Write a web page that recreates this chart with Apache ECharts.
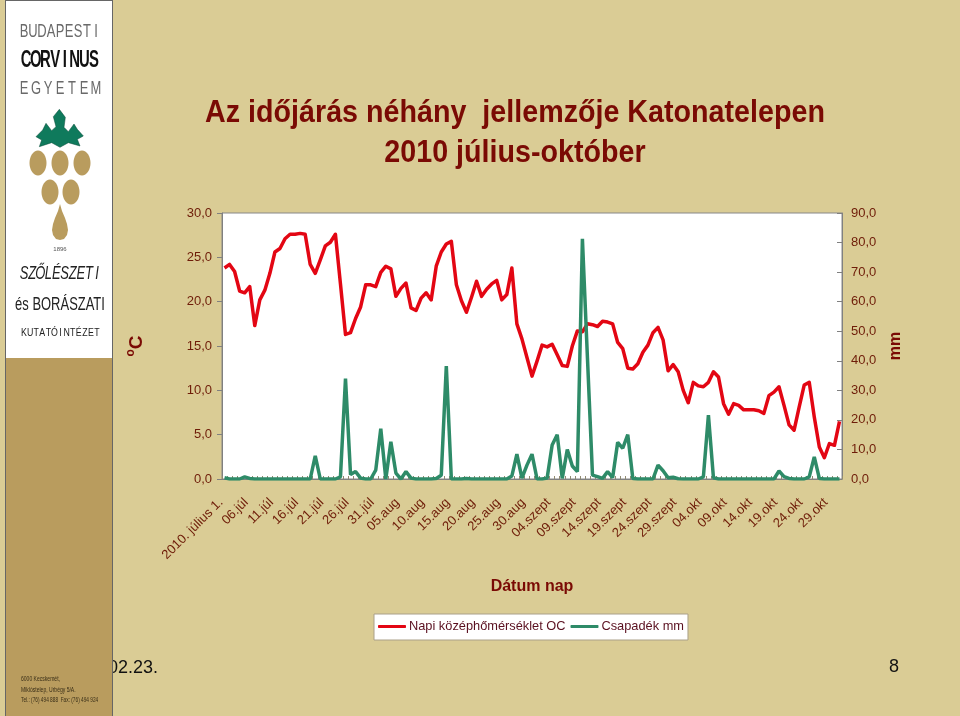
<!DOCTYPE html>
<html><head><meta charset="utf-8">
<style>html,body{margin:0;padding:0;background:#dacc95}#c{width:960px;height:716px}</style>
<script src="https://cdn.jsdelivr.net/npm/echarts@6/dist/echarts.min.js"></script>
</head><body><div id="c"></div>
<script>
const tickLabels = ["2010. július 1.","06.júl","11.júl","16.júl","21.júl","26.júl","31.júl","05.aug","10.aug","15.aug","20.aug","25.aug","30.aug","04.szept","09.szept","14.szept","19.szept","24.szept","29.szept","04.okt","09.okt","14.okt","19.okt","24.okt","29.okt"];
const temperature = [23.8,24.2,23.4,21.2,21.0,21.7,17.3,20.2,21.3,23.2,25.6,26.0,27.1,27.6,27.6,27.7,27.6,24.2,23.2,24.7,26.3,26.7,27.6,22.0,16.3,16.5,18.1,19.4,21.9,21.9,21.7,23.3,24.0,23.7,20.6,21.5,22.1,19.3,19.0,20.4,21.0,20.2,24.0,25.6,26.5,26.8,21.9,20.1,18.8,20.5,22.3,20.6,21.4,22.0,22.4,20.2,20.8,23.8,17.5,15.8,13.7,11.6,13.3,15.1,14.9,15.2,14.0,12.8,12.7,15.0,16.7,16.6,17.5,17.4,17.2,17.8,17.7,17.5,15.4,14.7,12.5,12.4,13.0,14.3,15.1,16.5,17.1,15.7,12.2,12.9,12.1,10.0,8.6,10.9,10.5,10.4,10.9,12.1,11.5,8.5,7.3,8.5,8.3,7.8,7.8,7.8,7.7,7.4,9.4,9.8,10.4,8.3,6.1,5.5,8.1,10.6,10.9,7.0,3.6,2.4,4.0,3.8,6.5];
const rainfall = [0.4,0,0,0,0.7,0.2,0,0,0,0,0,0,0,0,0,0,0,0,7.8,0,0,0,0,0.7,34.0,1.5,2.5,0.3,0,0,3.0,17.0,0,12.6,2.0,0,2.5,0.3,0,0,0,0,0.2,1.3,38.2,0,0,0,0.2,0,0,0,0,0,0,0,0,1.0,8.4,0.3,4.7,8.4,0,0,0.3,11.5,15.0,0.2,10.0,4.4,2.5,81.3,41.0,1.3,0.8,0.2,2.5,0.5,12.4,10.4,15.0,0.2,0,0,0,0,4.7,2.8,0.4,0.6,0.1,0,0,0,0,0.7,21.6,0.4,0,0,0,0,0,0,0,0,0,0,0,0,2.7,0.8,0.2,0,0,0,0.7,7.5,0.2,0,0,0,0];
const categories = temperature.map((_, i) => i % 5 === 0 ? tickLabels[i / 5] : 'd' + i);

const F = '"Liberation Sans", Arial, sans-serif';
const DARK = '#6e1c08', TITLE = '#7a0a04';

function label(x, y, text, font, color, sx, align, z) {
  return {type:'text', x, y, scaleX:sx||1, z:z||20, style:{text, font, fill:color, textAlign:align||'left', textVerticalAlign:'middle'}};
}
function spaced(text, x0, x1, y, font, color, sx) {
  const step = (x1 - x0) / (text.length - 1);
  return [...text].map((ch, i) => label(x0 + i * step, y, ch, font, color, sx, 'center'));
}
const GOLD = '#b99c5e';
const leaf = [[178,328],[196,352],[192,382],[205,395],[222,372],[232,388],[250,408],[232,418],[240,438],[205,428],[180,442],[155,428],[118,440],[125,420],[108,410],[128,390],[138,370],[155,392],[168,380],[160,350]].map(p => [p[0]/3, p[1]/3]);
const drop = [[60,204],[62,211],[65,218],[67,224],[68,230],[67,235],[64,239],[60,240],[56,239],[53,235],[52,230],[53,224],[55,218],[58,211]];

const logo = [
  {type:'rect', z:10, shape:{x:5,y:0,width:108,height:358}, style:{fill:'#fff'}},
  {type:'rect', z:10, shape:{x:5,y:358,width:108,height:358}, style:{fill:GOLD}},
  {type:'line', z:11, shape:{x1:5.5,y1:0,x2:5.5,y2:716}, style:{stroke:'#666',lineWidth:1}},
  {type:'line', z:11, shape:{x1:112.5,y1:0,x2:112.5,y2:716}, style:{stroke:'#666',lineWidth:1}},
  {type:'line', z:11, shape:{x1:5,y1:0.5,x2:113,y2:0.5}, style:{stroke:'#666',lineWidth:1}},
  ...spaced('BUDAPESTI', 24, 96, 32, '18px '+F, '#6a6a6a', 0.72),
  ...spaced('CORVINUS', 26, 94, 60, 'bold 24px '+F, '#111', 0.62),
  ...spaced('EGYETEM', 24, 96, 89, '18px '+F, '#6a6a6a', 0.72),
  {type:'polygon', z:20, shape:{points:leaf}, style:{fill:'#0f7a5c', stroke:'#0b4a38', lineWidth:0.5}},
  ...[[38,163],[60,163],[82,163],[50,192],[71,192]].map(c => ({type:'ellipse', z:20, shape:{cx:c[0],cy:c[1],rx:8.5,ry:12.5}, style:{fill:GOLD}})),
  {type:'polygon', z:20, shape:{points:drop}, style:{fill:GOLD}},
  label(60, 249, '1896', '6px '+F, '#555', 1, 'center'),
  ...spaced('SZŐLÉSZETI', 24, 97, 274, 'italic 18px '+F, '#222', 0.72),
  label(60, 305, 'és BORÁSZATI', '18px '+F, '#222', 0.72, 'center'),
  ...spaced('KUTATÓINTÉZET', 24, 97, 333, '11px '+F, '#222', 0.8),
  label(21, 679, '6000 Kecskemét,', '7px '+F, '#3a2f18', 0.72),
  label(21, 690, 'Miklóstelep, Urbégy 5/A.', '7px '+F, '#3a2f18', 0.72),
  label(21, 700, 'Tel.: (76) 494 888  Fax: (76) 494 924', '7px '+F, '#3a2f18', 0.68),
];

const chart = echarts.init(document.getElementById('c'), null, {renderer:'canvas'});
chart.setOption({
  animation:false,
  backgroundColor:'#dacc95',
  textStyle:{fontFamily:F},
  legend:{
    left:374, top:614, padding:[6,4,7,4], itemGap:5, itemWidth:28, itemHeight:3, icon:'roundRect',
    backgroundColor:'#fff', borderColor:'#aaa089', borderWidth:1, borderRadius:0,
    textStyle:{fontFamily:F, fontSize:12.8, color:'#5a1020', padding:[0,0,0,-2]},
    data:['Napi középhőmérséklet OC','Csapadék mm']
  },
  grid:{left:222, right:118, top:213, bottom:237, show:true, backgroundColor:'#fff', borderColor:'#888', borderWidth:1},
  xAxis:{
    type:'category', data:categories, boundaryGap:true,
    name:'Dátum nap', nameLocation:'middle', nameGap:100,
    nameTextStyle:{fontFamily:F, fontWeight:'bold', fontSize:16, color:TITLE},
    axisLine:{lineStyle:{color:'#808080'}},
    axisTick:{show:true, alignWithLabel:false, interval:0, inside:true, length:3, lineStyle:{color:'#908a70'}},
    axisLabel:{interval:4, rotate:45, margin:18, padding:[0,5,0,0], fontFamily:F, fontSize:13, color:DARK, hideOverlap:false},
    splitLine:{show:false}
  },
  yAxis:[{
    type:'value', min:0, max:30, interval:5, position:'left',
    name:'{o|o}{c|C}', nameLocation:'middle', nameGap:73, nameRotate:90,
    nameTextStyle:{rich:{o:{fontFamily:F,fontWeight:'bold',fontSize:12,color:TITLE,verticalAlign:'top',lineHeight:24},c:{fontFamily:F,fontWeight:'bold',fontSize:19,color:TITLE,lineHeight:24}}},
    axisLine:{show:true, lineStyle:{color:'#808080'}},
    axisTick:{show:true, length:5, lineStyle:{color:'#808080'}},
    axisLabel:{margin:10, fontFamily:F, fontSize:13, color:DARK, formatter:v => v.toFixed(1).replace('.',',')},
    splitLine:{show:false}
  },{
    type:'value', min:0, max:90, interval:10, position:'right',
    name:'mm', nameLocation:'middle', nameGap:44, nameRotate:90,
    nameTextStyle:{fontFamily:F, fontWeight:'bold', fontSize:16, color:TITLE},
    axisLine:{show:true, lineStyle:{color:'#808080'}},
    axisTick:{show:true, inside:true, length:5, lineStyle:{color:'#808080'}},
    axisLabel:{margin:9, fontFamily:F, fontSize:13, color:DARK, formatter:v => v.toFixed(1).replace('.',',')},
    splitLine:{show:false}
  }],
  series:[
    {name:'Napi középhőmérséklet OC', type:'line', yAxisIndex:0, data:temperature, showSymbol:false, symbol:'none', smooth:false, z:3,
      lineStyle:{color:'#e30613', width:3.5, join:'round'}, itemStyle:{color:'#e30613'}},
    {name:'Csapadék mm', type:'line', yAxisIndex:1, data:rainfall, showSymbol:false, symbol:'none', smooth:false, z:4,
      lineStyle:{color:'#2e8b68', width:3.5, join:'bevel'}, itemStyle:{color:'#2e8b68'}}
  ],
  graphic:{elements:[
    label(515, 113, 'Az időjárás néhány  jellemzője Katonatelepen', 'bold 31px '+F, TITLE, 0.925, 'center'),
    label(515, 153, '2010 július-október', 'bold 31px '+F, TITLE, 0.925, 'center'),
    label(108, 668, '02.23.', '18px '+F, '#111', 1, 'left', 5),
    label(889, 667, '8', '18px '+F, '#111'),
    ...logo
  ]}
});
</script></body></html>
